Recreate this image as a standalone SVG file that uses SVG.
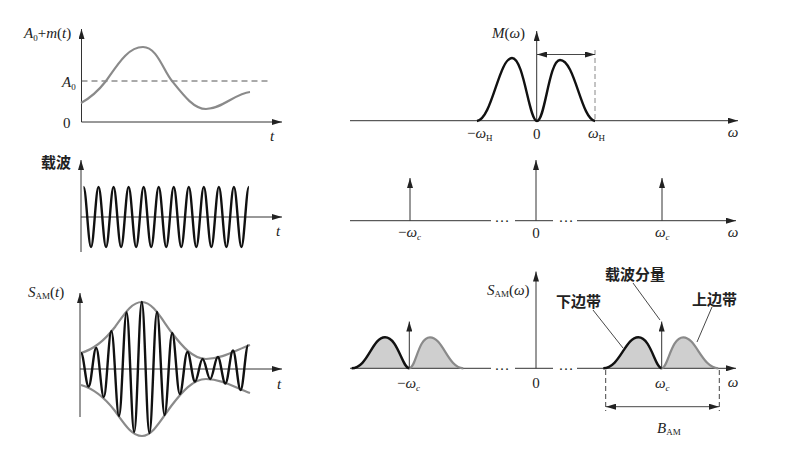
<svg xmlns="http://www.w3.org/2000/svg" width="796" height="456" viewBox="0 0 796 456">
<style>
.ax{stroke:#333;stroke-width:1;fill:none}
.cv{stroke:#111;stroke-width:2.4;fill:none;stroke-linejoin:round}
.gr{stroke:#8a8a8a;stroke-width:2.2;fill:none}
.lobe{fill:#cfcfcf}
.thin{stroke:#333;stroke-width:0.9;fill:none}
.dash{stroke:#555;stroke-width:1;stroke-dasharray:6,4;fill:none}
.vd{stroke:#888;stroke-width:1;stroke-dasharray:5,3;fill:none}
text{font-family:"Liberation Serif","Times New Roman",serif;font-size:15px;fill:#222}
.i{font-style:italic}
.cn{font-family:"Noto Sans CJK SC",sans-serif;font-weight:bold;font-size:15px}
</style>
<defs>
<marker id="ar" viewBox="0 0 10 6" refX="10" refY="3" markerWidth="10" markerHeight="6" markerUnits="userSpaceOnUse" orient="auto-start-reverse">
<path d="M0,0 L10,3 L0,6 z" fill="#222"/>
</marker>
</defs>

<g id="plot-m">
<path class="ax" d="M81.5,122 V29" marker-end="url(#ar)"/>
<path class="ax" d="M81.5,122 H282" marker-end="url(#ar)"/>
<path class="dash" d="M81.5,81 H268"/>
<path class="gr" d="M81,103 C92,97 99,90 106,81 C118,64 128,47 143,47 C157,47 163,70 172,81 C184,96 194,109 206,109 C222,109 236,93 250,92"/>
<text x="24" y="38"><tspan class="i">A</tspan><tspan font-size="9" dy="3">0</tspan><tspan dy="-3">+</tspan><tspan class="i">m</tspan>(<tspan class="i">t</tspan>)</text>
<text x="62" y="87"><tspan class="i">A</tspan><tspan font-size="9" dy="3">0</tspan></text>
<text x="63" y="128">0</text>
<text x="270" y="141" class="i">t</text>
</g>

<g id="plot-carrier">
<path class="ax" d="M81,252 V160" marker-end="url(#ar)"/>
<path class="ax" d="M81,217 H282" marker-end="url(#ar)"/>
<path class="cv" d="M83.5,187 c2.74,0 4.79,60 7.52,60 c2.74,0 4.79,-60 7.52,-60 c2.74,0 4.79,60 7.52,60 c2.74,0 4.79,-60 7.52,-60 c2.74,0 4.79,60 7.52,60 c2.74,0 4.79,-60 7.52,-60 c2.74,0 4.79,60 7.52,60 c2.74,0 4.79,-60 7.52,-60 c2.74,0 4.79,60 7.52,60 c2.74,0 4.79,-60 7.52,-60 c2.74,0 4.79,60 7.52,60 c2.74,0 4.79,-60 7.52,-60 c2.74,0 4.79,60 7.52,60 c2.74,0 4.79,-60 7.52,-60 c2.74,0 4.79,60 7.52,60 c2.74,0 4.79,-60 7.52,-60 c2.74,0 4.79,60 7.52,60 c2.74,0 4.79,-60 7.52,-60 c2.74,0 4.79,60 7.52,60 c2.74,0 4.79,-60 7.52,-60 c2.74,0 4.79,60 7.52,60 c2.74,0 4.79,-60 7.52,-60"/>
<text x="41" y="168" class="cn">载波</text>
<text x="276" y="236" class="i">t</text>
</g>

<g id="plot-sam-t">
<path class="ax" d="M80,417 V293" marker-end="url(#ar)"/>
<path class="ax" d="M80,369 H282" marker-end="url(#ar)"/>
<path class="gr" d="M81,353 C95,349 105,340 115,327 C125,313 132,302 142,302 C153,302 162,320 172,333 C182,346 193,359 206,359 C222,359 236,350 250,345"/>
<path class="gr" d="M81,385 C95,389 105,398 115,411 C125,425 132,436 142,436 C153,436 162,418 172,405 C182,392 193,379 206,379 C222,379 236,388 250,393"/>
<path class="cv" d="M81,353 C83.77,353 85.83,386.5 88.6,386.5 C91.37,386.5 93.43,348 96.2,348 C98.97,348 101.03,397 103.8,397 C106.57,397 108.63,331 111.4,331 C114.17,331 116.23,416 119,416 C121.77,416 123.83,312.5 126.6,312.5 C129.37,312.5 131.43,432 134.2,432 C136.97,432 139.03,302 141.8,302 C144.57,302 146.63,433 149.4,433 C152.17,433 154.23,312 157,312 C159.77,312 161.83,415 164.6,415 C167.37,415 169.43,333 172.2,333 C174.97,333 177.03,394 179.8,394 C182.57,394 184.63,352 187.4,352 C190.17,352 192.23,381.5 195,381.5 C197.77,381.5 199.83,359 202.6,359 C205.37,359 207.43,379 210.2,379 C212.97,379 215.03,357 217.8,357 C220.57,357 222.63,383.5 225.4,383.5 C228.17,383.5 230.23,350.5 233,350.5 C235.77,350.5 237.83,390 240.6,390 C243.37,390 245.43,345.5 248.2,345.5"/>
<text x="28" y="297"><tspan class="i">S</tspan><tspan font-size="9" dy="2">AM</tspan><tspan dy="-2">(</tspan><tspan class="i">t</tspan>)</text>
<text x="277" y="389" class="i">t</text>
</g>

<g id="plot-m-omega">
<path class="ax" d="M350,120.7 H738" marker-end="url(#ar)"/>
<path class="ax" d="M536.7,121 V31" marker-end="url(#ar)"/>
<path class="vd" d="M595,50 V121"/>
<path class="cv" d="M477,121 C492,119 499,58 512,58 C524,58 529,121 537,121 C545,121 549,60 560,60 C575,60 581,119 595,121"/>
<path class="thin" d="M537,54.5 H595" marker-start="url(#ar)" marker-end="url(#ar)"/>
<text x="492" y="38"><tspan class="i">M</tspan>(<tspan class="i">ω</tspan>)</text>
<text x="467" y="138">−<tspan class="i">ω</tspan><tspan font-size="9" dy="3">H</tspan></text>
<text x="536.7" y="139" text-anchor="middle">0</text>
<text x="588" y="138"><tspan class="i">ω</tspan><tspan font-size="9" dy="3">H</tspan></text>
<text x="733" y="137" text-anchor="middle" class="i">ω</text>
</g>

<g id="plot-carrier-spec">
<path class="ax" d="M350,220.7 H491 M515,220.7 H553"/>
<path class="ax" d="M577,220.7 H736" marker-end="url(#ar)"/>
<text x="502" y="222" text-anchor="middle">…</text>
<text x="566" y="222" text-anchor="middle">…</text>
<path class="ax" d="M410,220.7 V178" marker-end="url(#ar)"/>
<path class="ax" d="M536,220.7 V160" marker-end="url(#ar)"/>
<path class="ax" d="M662,220.7 V178" marker-end="url(#ar)"/>
<text x="398" y="237">−<tspan class="i">ω</tspan><tspan font-size="9" dy="3" class="i">c</tspan></text>
<text x="536" y="238" text-anchor="middle">0</text>
<text x="655" y="237"><tspan class="i">ω</tspan><tspan font-size="9" dy="3" class="i">c</tspan></text>
<text x="733" y="237" text-anchor="middle" class="i">ω</text>
</g>

<g id="plot-sam-omega">
<path class="lobe" d="M351.7,368.3 C368,368 372,337.3 385,337.3 C398,337.3 402,368 409.3,368.3 Z"/>
<path class="lobe" d="M409.3,368.3 C416,368 418,337.3 430,337.3 C443,337.3 448,368 463.3,368.3 Z"/>
<path class="lobe" d="M603.3,368.3 C620,368 625,337.3 638.3,337.3 C651,337.3 655,368 661.7,368.3 Z"/>
<path class="lobe" d="M661.7,368.3 C668,368 671,337.3 683.3,337.3 C696,337.3 702,368 718.3,368.3 Z"/>
<path class="ax" d="M350,368.3 H491 M515,368.3 H553"/>
<path class="ax" d="M577,368.3 H736" marker-end="url(#ar)"/>
<text x="502" y="370" text-anchor="middle">…</text>
<text x="566" y="370" text-anchor="middle">…</text>
<path class="cv" d="M351.7,368.3 C368,368 372,337.3 385,337.3 C398,337.3 402,368 409.3,368.3"/>
<path class="gr" d="M409.3,368.3 C416,368 418,337.3 430,337.3 C443,337.3 448,368 463.3,368.3"/>
<path class="cv" d="M603.3,368.3 C620,368 625,337.3 638.3,337.3 C651,337.3 655,368 661.7,368.3"/>
<path class="gr" d="M661.7,368.3 C668,368 671,337.3 683.3,337.3 C696,337.3 702,368 718.3,368.3"/>
<path class="ax" d="M536,368.3 V271.5" marker-end="url(#ar)"/>
<path class="ax" d="M409.3,368.3 V321.5" marker-end="url(#ar)"/>
<path class="ax" d="M661.7,368.3 V321.5" marker-end="url(#ar)"/>
<path class="thin" d="M633,283 L660,320 M593,310 L623,348 M712,307 L697,342"/>
<path class="vd" d="M605.7,370 V411 M719.3,370 V411" style="stroke:#444"/>
<path class="thin" d="M606,406.7 H719" marker-start="url(#ar)" marker-end="url(#ar)"/>
<text x="487" y="295"><tspan class="i">S</tspan><tspan font-size="9" dy="2">AM</tspan><tspan dy="-2">(</tspan><tspan class="i">ω</tspan>)</text>
<text x="397" y="388">−<tspan class="i">ω</tspan><tspan font-size="9" dy="3" class="i">c</tspan></text>
<text x="536" y="388" text-anchor="middle">0</text>
<text x="655" y="388"><tspan class="i">ω</tspan><tspan font-size="9" dy="3" class="i">c</tspan></text>
<text x="733" y="387" text-anchor="middle" class="i">ω</text>
<text x="605" y="280" class="cn">载波分量</text>
<text x="556" y="307" class="cn">下边带</text>
<text x="692" y="305" class="cn">上边带</text>
<text x="657" y="433"><tspan class="i">B</tspan><tspan font-size="9" dy="2">AM</tspan></text>
</g>
</svg>
